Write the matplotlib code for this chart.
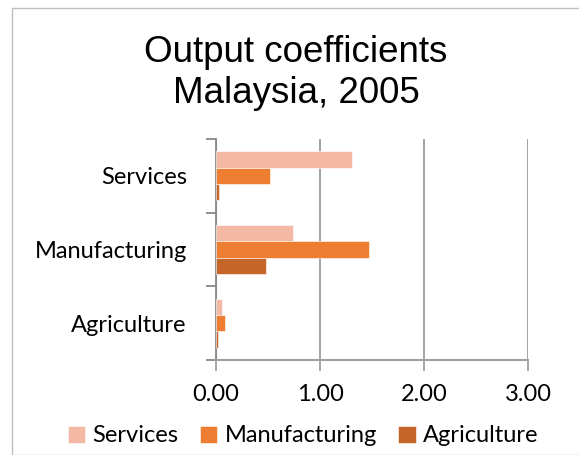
import matplotlib
matplotlib.use("Agg")
import matplotlib.pyplot as plt
import numpy as np
from matplotlib.patches import Rectangle

categories = ["Services", "Manufacturing", "Agriculture"]
series_names = ["Services", "Manufacturing", "Agriculture"]
services_vals = [1.305, 0.737, 0.058]
manufacturing_vals = [0.52, 1.474, 0.09]
agriculture_vals = [0.03, 0.478, 0.016]
xticks = [0.0, 1.0, 2.0, 3.0]
xtick_labels = ["0.00", "1.00", "2.00", "3.00"]

colors = ["#F4B9A5", "#ED7D31", "#C5652A"]
W, H = 579, 455
DPI = 100
fig = plt.figure(figsize=(W / DPI, H / DPI), dpi=DPI)
fig.patches.append(Rectangle((12 / W, 0), 1.2, 1 - 8 / H, transform=fig.transFigure,
                             fill=False, edgecolor="#BFBFBF", linewidth=1.0))

L, R, T, B = 216, 528, 139, 360
ax = fig.add_axes([L / W, 1 - B / H, (R - L) / W, (B - T) / H])

font = "Lato"
fs = 17
n = len(categories)
y = np.arange(n)  # 0 = Services on top (inverted)
h = 0.222
all_vals = [services_vals, manufacturing_vals, agriculture_vals]
for i, (name, vals) in enumerate(zip(series_names, all_vals)):
    ax.barh(y + (i - 1) * h, vals, height=h, color=colors[i], label=name,
            edgecolor="white", linewidth=0.4, zorder=3)

ax.set_xlim(0, 3)
ax.set_ylim(n - 0.5, -0.5)
ax.set_xticks(xticks)
ax.set_xticklabels(xtick_labels, fontfamily=font, fontsize=fs)
ax.set_yticks(y)
ax.set_yticklabels(categories, fontfamily=font, fontsize=fs)
ax.set_yticks(np.arange(-0.5, n, 1.0), minor=True)
ax.tick_params(axis="y", which="major", length=0, pad=21)
ax.tick_params(axis="y", which="minor", length=7, color="#878787", width=1.3)
ax.tick_params(axis="x", length=8, color="#A0A0A0", width=1.3, pad=9)
ax.grid(axis="x", color="#A6A6A6", linewidth=1.5, zorder=0)
for s in ["top", "right"]:
    ax.spines[s].set_visible(False)
ax.spines["left"].set_color("#878787")
ax.spines["left"].set_linewidth(1.3)
ax.spines["bottom"].set_color("#A0A0A0")
ax.spines["bottom"].set_linewidth(1.5)

fig.text(296 / W, 1 - 73 / H, "Output coefficients\nMalaysia, 2005",
         ha="center", va="center", fontsize=26.5, fontfamily="Liberation Sans",
         linespacing=1.22)

handles, labels = ax.get_legend_handles_labels()
fig.legend(handles, labels, loc="center", bbox_to_anchor=(303 / W, 1 - 436 / H),
           ncol=3, frameon=False, prop={"family": font, "size": fs},
           handlelength=0.75, handleheight=0.75, handletextpad=0.3, columnspacing=0.9,
           borderaxespad=0)

fig.savefig("out.png", dpi=DPI)
